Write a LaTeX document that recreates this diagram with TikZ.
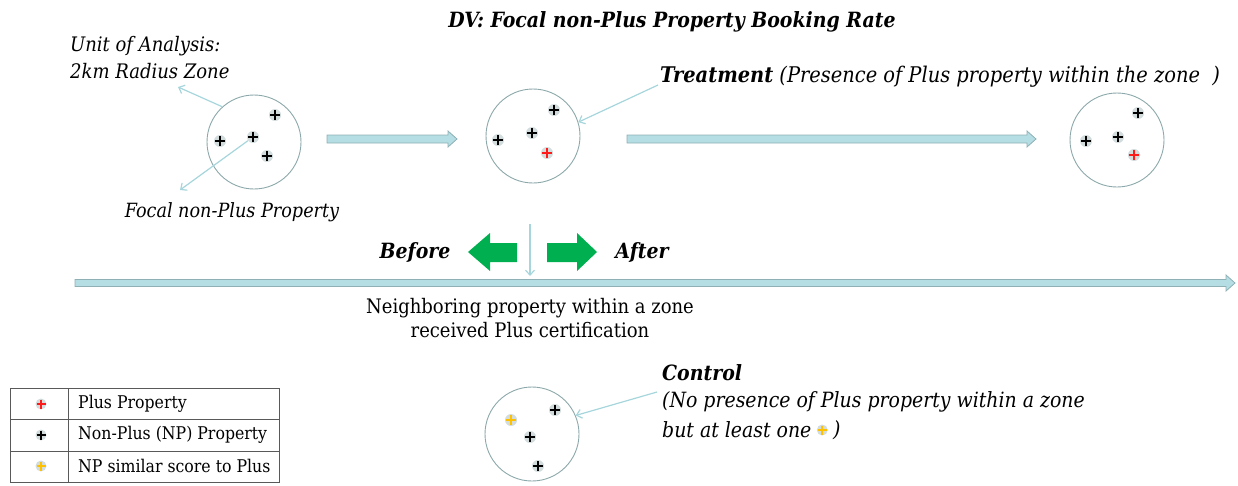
\documentclass[tikz,border=0pt]{standalone}
\usepackage{fontspec}
\setmainfont{DejaVu Serif Condensed}
\usetikzlibrary{arrows.meta,calc,positioning}
\definecolor{lb}{HTML}{B4DEE3}
\definecolor{lbd}{HTML}{8FB0B4}
\definecolor{ptr}{HTML}{A6D6DC}
\definecolor{ring}{HTML}{8CA8AA}
\definecolor{grn}{HTML}{00B050}
\definecolor{pred}{HTML}{FF1A1A}
\definecolor{pyel}{HTML}{FFC000}
\definecolor{halo}{HTML}{D3DCDD}
\newcommand\blockarr[6]{%
  \filldraw[fill=lb, draw=lbd, line width=0.8pt]
   (#1,#3-#4) -- (#2-#5,#3-#4) -- (#2-#5,#3-#6) -- (#2,#3) -- (#2-#5,#3+#6) -- (#2-#5,#3+#4) -- (#1,#3+#4) -- cycle;}
\tikzset{
  zone/.style={circle, draw=ring, line width=0.9pt, minimum size=94pt, inner sep=0pt},
  pm/.style={circle, fill=halo, minimum size=12pt, inner sep=0pt,
    path picture={\draw[#1, line width=1.7pt]
      ([xshift=1pt]path picture bounding box.west) -- ([xshift=-1pt]path picture bounding box.east)
      ([yshift=-1pt]path picture bounding box.north) -- ([yshift=1pt]path picture bounding box.south);}},
  pointer/.style={draw=ptr, line width=1.2pt, -{Straight Barb[length=5pt,width=9pt]}},
  lbl/.style={font=\fontsize{21}{27}\selectfont\itshape, inner sep=0pt},
  blbl/.style={font=\fontsize{21}{27}\selectfont\bfseries\itshape, inner sep=0pt},
  txt/.style={font=\fontsize{20}{24}\selectfont, inner sep=0pt},
  leg/.style={font=\fontsize{17.5}{20}\selectfont, inner sep=0pt, anchor=west},
}
\begin{document}
\begin{tikzpicture}[x=1pt,y=-1pt]
\useasboundingbox (0,0) rectangle (1238,485);
% title
\node[blbl] (title) at (672,22) {DV: Focal non-Plus Property Booking Rate};
% zones
\node[zone] (z1) at (254,142) {};
\node[zone] (z2) at (533,136) {};
\node[zone] (z3) at (1117,140) {};
\node[zone] (z4) at (532,434) {};
% plus marks zone 1
\node[pm=black] (a1) at (275,115) {};
\node[pm=black] (a2) at (220,141) {};
\node[pm=black] (f1) at (253,137) {};
\node[pm=black] (a4) at (267,156) {};
% zone 2
\node[pm=black] (b1) at (554,110) {};
\node[pm=black] (b2) at (498,140) {};
\node[pm=black] (b3) at (532,133) {};
\node[pm=pred] (b4) at (547,153) {};
% zone 3
\node[pm=black] (c1) at (1138,113) {};
\node[pm=black] (c2) at (1086,141) {};
\node[pm=black] (c3) at (1118,137) {};
\node[pm=pred] (c4) at (1134,155) {};
% zone 4
\node[pm=black] (d1) at (555,410) {};
\node[pm=pyel] (d2) at (511,420) {};
\node[pm=black] (d3) at (530,437) {};
\node[pm=black] (d4) at (538,466) {};
% labels
\node[lbl, font=\fontsize{20}{27}\selectfont\itshape, anchor=west, align=left] (unit) at (70,58) {Unit of Analysis:\\2km Radius Zone};
\node[lbl, font=\fontsize{19.6}{24}\selectfont\itshape] (focal) at (232,212) {Focal non-Plus Property};
\coordinate (uend) at (178,87);
\coordinate (fend) at (180,190);
\draw[pointer] (z1.132) -- (uend);
\draw[pointer] (f1) -- (fend);
\node[lbl, font=\fontsize{21.6}{27}\selectfont\itshape, anchor=west] (treat) at (660,77) {\textbf{Treatment} (Presence of Plus property within the zone\ \ )};
\coordinate (tstart) at (658,85);
\draw[pointer] (tstart) -- (z2.17);
% block arrows
\blockarr{327}{457}{139}{4}{9}{8}
\blockarr{627}{1036}{139}{4}{9}{8}
\blockarr{75}{1235}{283}{3.5}{9}{8}
% vertical event arrow
\coordinate (vtop) at (530,224);
\coordinate (vbot) at (530,276);
\draw[pointer] (vtop) -- (vbot);
% green arrows
\fill[grn] (468,252) -- (490,233) -- (490,243) -- (517,243) -- (517,262) -- (490,262) -- (490,271) -- cycle;
\fill[grn] (597,252) -- (577,233) -- (577,243) -- (547,243) -- (547,262) -- (577,262) -- (577,271) -- cycle;
\node[blbl] (before) at (415,253) {Before};
\node[blbl] (after) at (642,253) {After};
\node[txt, align=center] (event) at (530,318) {Neighboring property within a zone\\received Plus certification};
% control
\node[blbl, anchor=west] (ctrl) at (662,373) {Control};
\node[lbl, anchor=west] (c1txt) at (662,402) {(No presence of Plus property within a zone};
\node[lbl, anchor=west] (c2txt) at (662,430) {but at least one};
\node[pm=pyel, right=5pt of c2txt, minimum size=11pt] (cy) {};
\node[lbl, right=5pt of cy] (cparen) {)};
\coordinate (cstart) at (657,392);
\draw[pointer] (cstart) -- (z4.23);
% legend
\draw[gray!70!black, line width=1pt] (10,388) rectangle (279,482);
\draw[gray!70!black, line width=1pt] (10,419) -- (279,419) (10,451) -- (279,451) (68,388) -- (68,482);
\node[pm=pred, minimum size=11pt] (l1) at (41,404) {};
\node[pm=black, minimum size=11pt] (l2) at (41,435) {};
\node[pm=pyel, minimum size=11pt] (l3) at (41,466) {};
\node[leg] (lt1) at (78,404) {Plus Property};
\node[leg] (lt2) at (78,435) {Non-Plus (NP) Property};
\node[leg] (lt3) at (78,466) {NP similar score to Plus};
\end{tikzpicture}
\end{document}
